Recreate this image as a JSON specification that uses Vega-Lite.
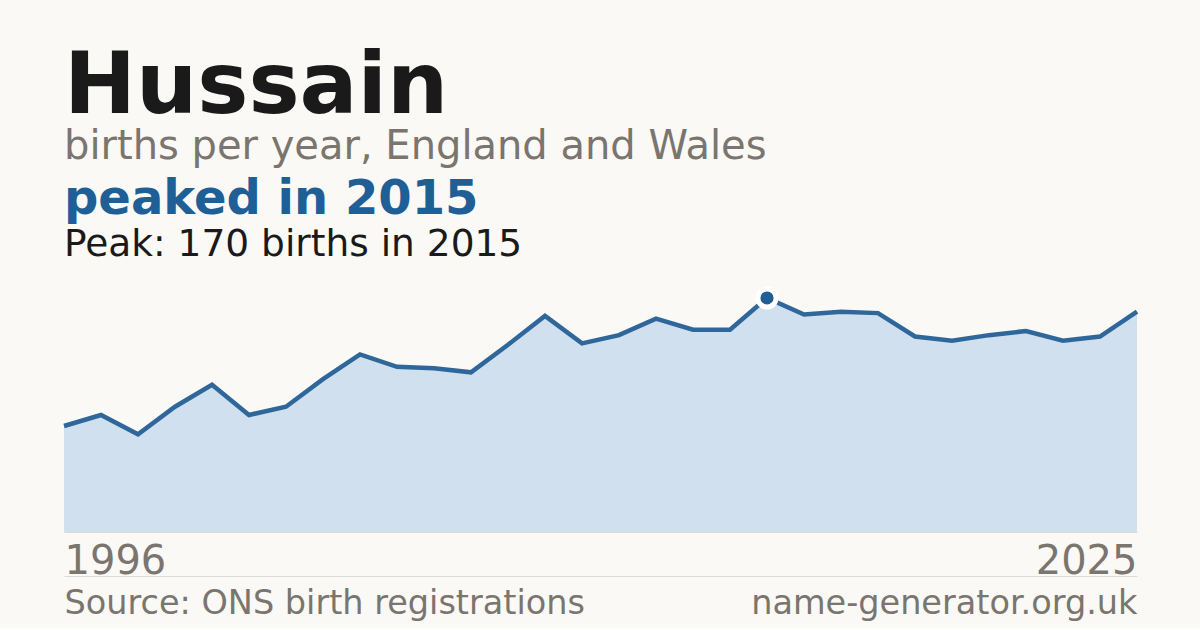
{
  "$schema": "https://vega.github.io/schema/vega-lite/v6.json",
  "background": "#faf9f5",
  "padding": {"left": 55, "top": 43, "right": 63, "bottom": 8},
  "title": {
    "text": "Hussain",
    "subtitle": "births per year, England and Wales",
    "anchor": "start",
    "frame": "group",
    "font": "DejaVu Sans",
    "fontSize": 86,
    "fontWeight": "bold",
    "color": "#1a1a1a",
    "subtitleFont": "DejaVu Sans",
    "subtitleFontSize": 40,
    "subtitleColor": "#7a756e",
    "subtitlePadding": -4,
    "offset": 8.5
  },
  "data": {
    "values": [
      {"year": 1996, "births": 77},
      {"year": 1997, "births": 85},
      {"year": 1998, "births": 71},
      {"year": 1999, "births": 91},
      {"year": 2000, "births": 107},
      {"year": 2001, "births": 85},
      {"year": 2002, "births": 91},
      {"year": 2003, "births": 111},
      {"year": 2004, "births": 129},
      {"year": 2005, "births": 120},
      {"year": 2006, "births": 119},
      {"year": 2007, "births": 116},
      {"year": 2008, "births": 136},
      {"year": 2009, "births": 157},
      {"year": 2010, "births": 137},
      {"year": 2011, "births": 143},
      {"year": 2012, "births": 155},
      {"year": 2013, "births": 147},
      {"year": 2014, "births": 147},
      {"year": 2015, "births": 170},
      {"year": 2016, "births": 158},
      {"year": 2017, "births": 160},
      {"year": 2018, "births": 159},
      {"year": 2019, "births": 142},
      {"year": 2020, "births": 139},
      {"year": 2021, "births": 143},
      {"year": 2022, "births": 146},
      {"year": 2023, "births": 139},
      {"year": 2024, "births": 142},
      {"year": 2025, "births": 160}
    ]
  },
  "config": {
    "view": {"stroke": null},
    "concat": {"spacing": 0},
    "font": "DejaVu Sans"
  },
  "vconcat": [
    {
      "width": 1073,
      "height": 250,
      "title": {
        "text": "peaked in 2015",
        "subtitle": "Peak: 170 births in 2015",
        "anchor": "start",
        "frame": "group",
        "font": "DejaVu Sans",
        "fontSize": 48,
        "fontWeight": "bold",
        "color": "#1f5f96",
        "subtitleFont": "DejaVu Sans",
        "subtitleFontSize": 37.5,
        "subtitleColor": "#1a1a1a",
        "subtitlePadding": 1.5,
        "offset": 15.5
      },
      "encoding": {
        "x": {"field": "year", "type": "quantitative", "scale": {"domain": [1996, 2025], "nice": false, "zero": false}},
        "y": {"field": "births", "type": "quantitative", "scale": {"domain": [0, 181.6], "nice": false}, "axis": null}
      },
      "layer": [
        {
          "mark": {"type": "area", "color": "#d0e0ef"},
          "encoding": {
            "x": {
              "field": "year",
              "type": "quantitative",
              "axis": {
                "values": [1996, 2025],
                "format": "d",
                "labelFlush": true,
                "labelFont": "DejaVu Sans",
                "labelFontSize": 40,
                "labelColor": "#7a756e",
                "labelPadding": 9,
                "ticks": false,
                "tickSize": 0,
                "grid": false,
                "domainColor": "#dddbd5",
                "domainWidth": 1,
                "title": "Source: ONS birth registrations",
                "titleFont": "DejaVu Sans",
                "titleFontSize": 33.5,
                "titleFontWeight": "normal",
                "titleColor": "#7a756e",
                "titleAnchor": "start",
                "titleAlign": "left",
                "titleBaseline": "alphabetic",
                "titleX": 0,
                "titleY": 81
              }
            }
          }
        },
        {
          "mark": {"type": "line", "color": "#2f679b", "strokeWidth": 4.5, "strokeJoin": "miter"},
          "encoding": {"x": {"field": "year", "type": "quantitative", "axis": null}}
        },
        {
          "transform": [{"filter": "datum.year == 2015"}],
          "mark": {"type": "point", "shape": "circle", "filled": true, "size": 330, "color": "#1f5f96", "stroke": "#ffffff", "strokeWidth": 5, "opacity": 1},
          "encoding": {
            "x": {
              "field": "year",
              "type": "quantitative",
              "axis": {
                "orient": "bottom",
                "offset": 44,
                "labels": false,
                "ticks": false,
                "grid": false,
                "domainColor": "#dddbd5",
                "domainWidth": 1,
                "title": "name-generator.org.uk",
                "titleFont": "DejaVu Sans",
                "titleFontSize": 33.5,
                "titleFontWeight": "normal",
                "titleColor": "#7a756e",
                "titleAnchor": "end",
                "titleAlign": "right",
                "titleBaseline": "alphabetic",
                "titleX": 1073,
                "titleY": 37
              }
            }
          }
        }
      ],
      "resolve": {"axis": {"x": "independent"}}
    }
  ]
}
